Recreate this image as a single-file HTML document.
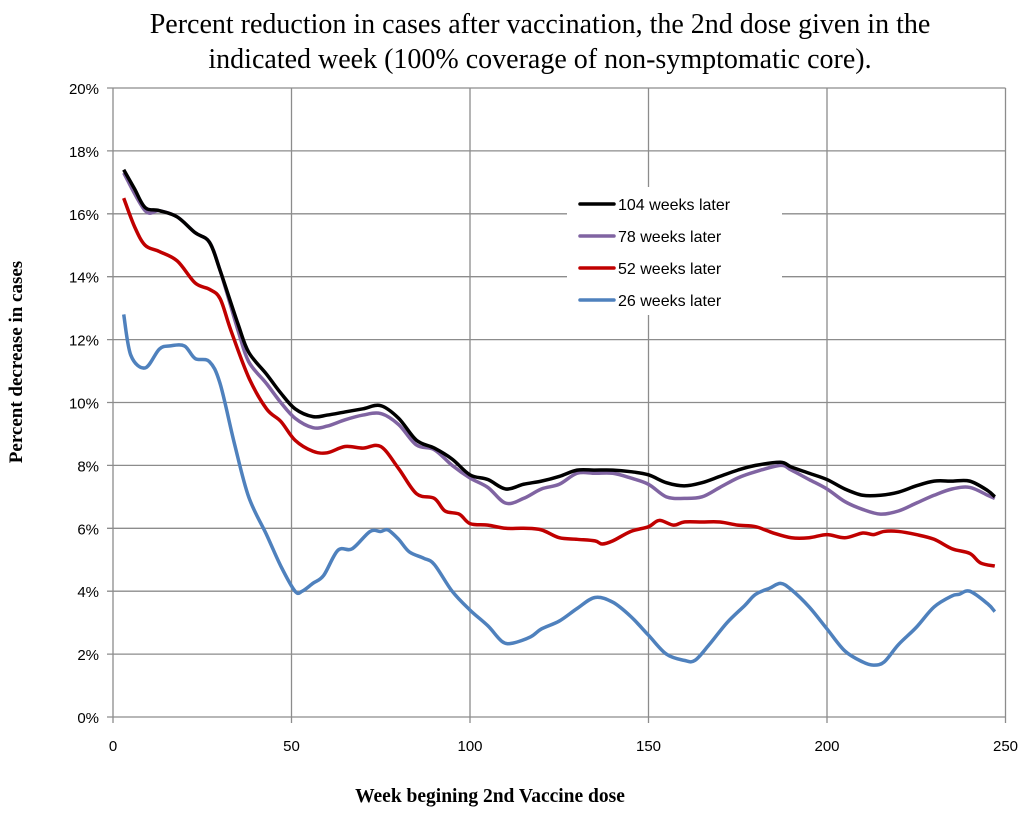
<!DOCTYPE html>
<html><head><meta charset="utf-8"><style>
body{margin:0;background:#fff;width:1024px;height:813px;overflow:hidden}
</style></head><body>
<svg id="c" width="1024" height="813" xmlns="http://www.w3.org/2000/svg">
<text x="540" y="33" text-anchor="middle" font-family="Liberation Serif, serif" font-size="28">Percent reduction in cases after vaccination, the 2nd dose given in the</text>
<text x="540" y="68" text-anchor="middle" font-family="Liberation Serif, serif" font-size="28">indicated week (100% coverage of non-symptomatic core).</text>
<text transform="translate(22,362) rotate(-90)" text-anchor="middle" font-family="Liberation Serif, serif" font-size="19" font-weight="bold">Percent  decrease in cases</text>
<text x="490" y="802" text-anchor="middle" font-family="Liberation Serif, serif" font-size="19.5" font-weight="bold">Week begining 2nd Vaccine dose</text>
<g id="grid"></g><g id="lines"></g><g id="legend"></g>
</svg>
<script>
const xTicks=[0,50,100,150,200,250];
const yTicks=[0,2,4,6,8,10,12,14,16,18,20];
const s104w=[3,6,9,13,18,23,27,30,35,38,43,47,51,56,60,65,70,75,80,85,90,95,100,105,110,115,120,125,130,135,140,145,150,155,160,165,170,175,180,187,190,195,200,205,210,215,220,225,230,235,240,245,247];
const s104v=[17.4,16.8,16.2,16.1,15.9,15.4,15.1,14.2,12.5,11.6,10.9,10.3,9.8,9.55,9.6,9.7,9.8,9.9,9.5,8.8,8.55,8.2,7.7,7.55,7.25,7.4,7.5,7.65,7.85,7.85,7.85,7.8,7.7,7.45,7.35,7.45,7.65,7.85,8.0,8.1,7.95,7.75,7.55,7.25,7.05,7.05,7.15,7.35,7.5,7.5,7.5,7.2,7.0];
const s78w=[3,9,13,18,23,27,30,35,38,43,47,51,56,60,65,70,75,80,85,90,95,100,105,110,115,120,125,130,135,140,145,150,155,160,165,170,175,180,187,190,195,200,205,210,215,220,225,230,235,240,245,247];
const s78v=[17.3,16.1,16.1,15.9,15.4,15.1,14.2,12.3,11.3,10.6,10.0,9.5,9.2,9.25,9.45,9.6,9.65,9.3,8.65,8.5,8.0,7.6,7.3,6.8,6.95,7.25,7.4,7.75,7.75,7.75,7.6,7.4,7.0,6.95,7.0,7.3,7.6,7.8,8.0,7.85,7.55,7.25,6.85,6.6,6.45,6.55,6.8,7.05,7.25,7.3,7.05,6.95];
const s52w=[3,6,9,13,18,23,27,30,33,38,43,47,51,56,60,65,70,75,80,85,90,93,97,100,105,110,115,120,125,130,135,137,140,145,150,153,157,160,165,170,175,180,185,190,195,200,205,210,213,216,220,225,230,235,240,243,247];
const s52v=[16.5,15.6,15.0,14.8,14.5,13.8,13.6,13.3,12.3,10.8,9.8,9.4,8.8,8.45,8.4,8.6,8.55,8.6,7.9,7.1,6.95,6.55,6.45,6.15,6.1,6.0,6.0,5.95,5.7,5.65,5.6,5.5,5.6,5.9,6.05,6.25,6.1,6.2,6.2,6.2,6.1,6.05,5.85,5.7,5.7,5.8,5.7,5.85,5.8,5.9,5.9,5.8,5.65,5.35,5.2,4.9,4.8];
const s26w=[3,5,9,13,16,20,23,27,30,34,38,43,47,51,53,56,59,63,67,72,75,77,80,83,87,90,95,100,105,109,112,117,120,125,130,135,140,145,150,155,160,163,167,172,177,180,184,187,190,195,200,205,210,213,216,220,225,230,235,237,240,245,247];
const s26v=[12.8,11.5,11.1,11.7,11.8,11.8,11.4,11.3,10.6,8.7,7.0,5.8,4.8,4.0,4.0,4.25,4.5,5.3,5.35,5.9,5.9,5.95,5.65,5.25,5.05,4.85,4.0,3.4,2.9,2.4,2.35,2.55,2.8,3.05,3.45,3.8,3.65,3.2,2.6,2.0,1.8,1.8,2.3,3.0,3.55,3.9,4.1,4.25,4.05,3.5,2.8,2.1,1.75,1.65,1.75,2.3,2.85,3.5,3.85,3.9,4.0,3.6,3.35];
const seriesNames=["104 weeks later","78 weeks later","52 weeks later","26 weeks later"];
const NS="http://www.w3.org/2000/svg";
const X0=113,X1=1005.5,Y0=717,Y1=88;
const xs=v=>X0+(X1-X0)*v/250, ys=v=>Y0-(Y0-Y1)*v/20;
const grid=document.getElementById('grid');
function mk(tag,attrs,parent){const e=document.createElementNS(NS,tag);for(const k in attrs)e.setAttribute(k,attrs[k]);parent.appendChild(e);return e;}
yTicks.forEach(t=>{
 const l=mk('line',{x1:X0-6,x2:X1,y1:ys(t),y2:ys(t),stroke:'#8c8c8c','stroke-width':1.3},grid);
 
 
 const tx=mk('text',{x:X0-14,y:ys(t)+6,'text-anchor':'end','font-family':'Liberation Sans, sans-serif','font-size':15},grid);
 tx.textContent=t+'%';
 
 
});
xTicks.forEach(t=>{
 const l=mk('line',{x1:xs(t),x2:xs(t),y1:Y1,y2:Y0+6,stroke:'#8c8c8c','stroke-width':1.3},grid);
 
 
 const tx=mk('text',{x:xs(t),y:Y0+34,'text-anchor':'middle','font-family':'Liberation Sans, sans-serif','font-size':15},grid);
 tx.textContent=t;
 
 
});
function path(w,v){
 const p=w.map((a,i)=>[xs(a),ys(v[i])]);
 let d='M'+p[0][0]+','+p[0][1];
 for(let i=0;i<p.length-1;i++){
  const p0=p[Math.max(i-1,0)],p1=p[i],p2=p[i+1],p3=p[Math.min(i+2,p.length-1)];
  const c1=[p1[0]+(p2[0]-p0[0])/6,p1[1]+(p2[1]-p0[1])/6],c2=[p2[0]-(p3[0]-p1[0])/6,p2[1]-(p3[1]-p1[1])/6];
  d+=' C'+c1+' '+c2+' '+p2;
 }
 return d;
}
const lines=document.getElementById('lines');
const series=[[s26w,s26v,'#4f81bd','line-26-weeks'],[s52w,s52v,'#c00000','line-52-weeks'],[s78w,s78v,'#8064a2','line-78-weeks'],[s104w,s104v,'#000000','line-104-weeks']];
series.forEach(s=>{
 const e=mk('path',{d:path(s[0],s[1]),fill:'none',stroke:s[2],'stroke-width':3.5,'stroke-linejoin':'round'},lines);
 
 
});
const lg=document.getElementById('legend');
const bg=mk('rect',{x:567,y:187,width:215,height:128,fill:'#fff'},lg);


const lcol=['#000000','#8064a2','#c00000','#4f81bd'];
seriesNames.forEach((n,i)=>{
 const y=204+i*32;
 const l=mk('line',{x1:580,x2:614,y1:y,y2:y,stroke:lcol[i],'stroke-width':3.5,'stroke-linecap':'round'},lg);
 
 
 const t=mk('text',{x:618,y:y+6,'font-family':'Liberation Sans, sans-serif','font-size':16},lg);
 t.textContent=n;
 
 
});
</script>
</body></html>
